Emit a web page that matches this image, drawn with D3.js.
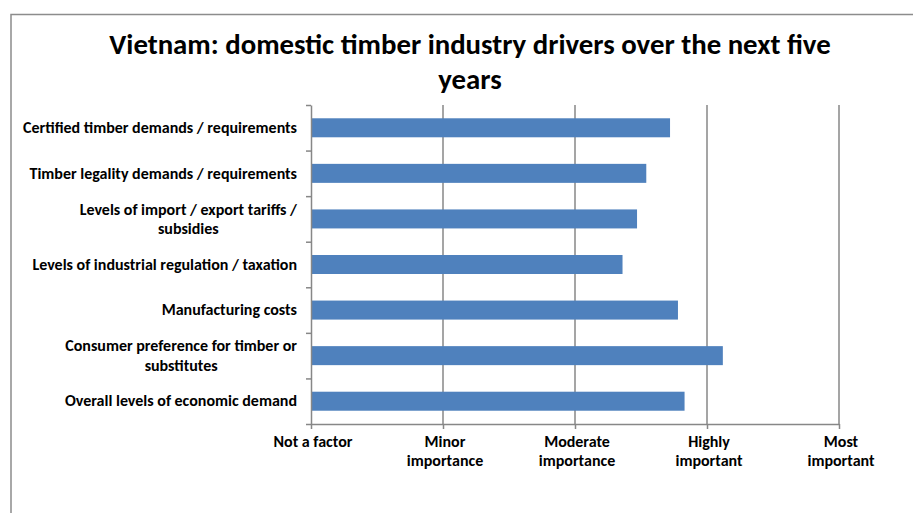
<!DOCTYPE html>
<html>
<head>
<meta charset="utf-8">
<script src="https://cdn.jsdelivr.net/npm/d3@7/dist/d3.min.js"></script>
<style>
  html, body { margin: 0; padding: 0; background: #ffffff; }
  svg { display: block; }
  text { font-family: Carlito, Calibri, Lato, "Open Sans", sans-serif; font-weight: bold; fill: #000; }
</style>
</head>
<body>
<svg id="chart" width="913" height="513"></svg>
<script>
// Survey categories, top to bottom
const categories = [
  "Certified timber demands / requirements",
  "Timber legality demands / requirements",
  "Levels of import / export tariffs / subsidies",
  "Levels of industrial regulation / taxation",
  "Manufacturing costs",
  "Consumer preference for timber or substitutes",
  "Overall levels of economic demand"
];

// Average importance score (0 = not a factor … 4 = most important)
const scores = [2.72, 2.54, 2.47, 2.36, 2.78, 3.12, 2.83];

// Importance scale labels along the value axis
const scaleTicks = [0, 1, 2, 3, 4];
const scaleLabels = ["Not a factor", "Minor importance", "Moderate importance", "Highly important", "Most important"];

const titleText = "Vietnam: domestic timber industry drivers over the next five years";

const svg = d3.select("#chart");
const W = 913, H = 513;
const plot = { left: 311, right: 839, top: 105, bottom: 424 };

const barColor = "#4f81bd";
const gridColor = "#878787";

// Outer chart frame (runs off the right and bottom edges)
svg.append("path")
  .attr("d", `M11,${H + 5} L11,14.5 L${W + 5},14.5`)
  .attr("fill", "none")
  .attr("stroke", "#8c8c8c")
  .attr("stroke-width", 1.5);

const x = d3.scaleLinear().domain([0, 4]).range([plot.left, plot.right]);
const y = d3.scaleBand().domain(categories).range([plot.top, plot.bottom])
  .paddingInner(0.583).paddingOuter(0.2915);
// Category boundaries for the tick marks between bars
const yEdge = d3.scaleLinear().domain([0, categories.length]).range([plot.top, plot.bottom]);

// Vertical gridlines
svg.append("g")
  .selectAll("line")
  .data(scaleTicks.slice(1))
  .join("line")
  .attr("x1", d => x(d)).attr("x2", d => x(d))
  .attr("y1", plot.top).attr("y2", plot.bottom)
  .attr("stroke", gridColor)
  .attr("stroke-width", 1.5);

// Bars
svg.append("g")
  .selectAll("rect")
  .data(categories)
  .join("rect")
  .attr("x", x(0))
  .attr("y", c => y(c))
  .attr("width", (c, i) => x(scores[i]) - x(0))
  .attr("height", y.bandwidth())
  .attr("fill", barColor);

// Value axis (bottom)
const xAxis = svg.append("g")
  .attr("transform", `translate(0,${plot.bottom})`)
  .call(d3.axisBottom(x).tickValues(scaleTicks).tickSize(5).tickSizeOuter(0).tickFormat(""));
xAxis.select(".domain").attr("stroke", gridColor).attr("stroke-width", 1.5);
xAxis.selectAll(".tick line").attr("stroke", gridColor).attr("stroke-width", 1.5);

// Category axis (left)
const yAxis = svg.append("g")
  .attr("transform", `translate(${plot.left},0)`)
  .call(d3.axisLeft(yEdge).ticks(categories.length).tickSize(5).tickSizeOuter(0).tickFormat(""));
yAxis.select(".domain").attr("stroke", gridColor).attr("stroke-width", 1.5);
yAxis.selectAll(".tick line").attr("stroke", gridColor).attr("stroke-width", 1.5);

// Word-wrap helper: splits text into lines no wider than maxWidth
function wrapLines(textSel, str, maxWidth) {
  const words = str.split(/\s+/);
  const lines = [];
  let line = [];
  const probe = textSel.append("tspan");
  words.forEach(w => {
    const trial = line.concat(w).join(" ");
    probe.text(trial);
    if (line.length && probe.node().getComputedTextLength() > maxWidth) {
      lines.push(line.join(" "));
      line = [w];
    } else {
      line.push(w);
    }
  });
  if (line.length) lines.push(line.join(" "));
  probe.remove();
  return lines;
}

function measure(textSel, str) {
  const probe = textSel.append("tspan").text(str);
  const w = probe.node().getComputedTextLength();
  probe.remove();
  return w;
}

// Category labels: block right-aligned to the axis, lines centred within the block
const labelSize = 16, labelLine = 19.3;
const labelRight = 297;
categories.forEach(c => {
  const t = svg.append("text")
    .attr("text-anchor", "middle")
    .style("font-size", labelSize + "px");
  const lines = wrapLines(t, c, 278);
  const blockW = d3.max(lines, ln => measure(t, ln));
  const cx = labelRight - blockW / 2;
  const cy = y(c) + y.bandwidth() / 2;
  const first = cy - (lines.length - 1) * labelLine / 2 + labelSize * 0.33;
  lines.forEach((ln, k) => {
    t.append("tspan").attr("x", cx).attr("y", first + k * labelLine).text(ln);
  });
});

// Value axis labels
scaleTicks.forEach((v, i) => {
  const t = svg.append("text")
    .attr("text-anchor", "middle")
    .style("font-size", labelSize + "px");
  const lines = wrapLines(t, scaleLabels[i], 92);
  lines.forEach((ln, k) => {
    t.append("tspan").attr("x", x(v) + 2).attr("y", 447 + k * 19.3).text(ln);
  });
});

// Title
const title = svg.append("text")
  .attr("text-anchor", "middle")
  .style("font-size", "28.8px");
wrapLines(title, titleText, 760).forEach((ln, k) => {
  title.append("tspan").attr("x", 470).attr("y", 54 + k * 34.6).text(ln);
});
</script>
</body>
</html>
